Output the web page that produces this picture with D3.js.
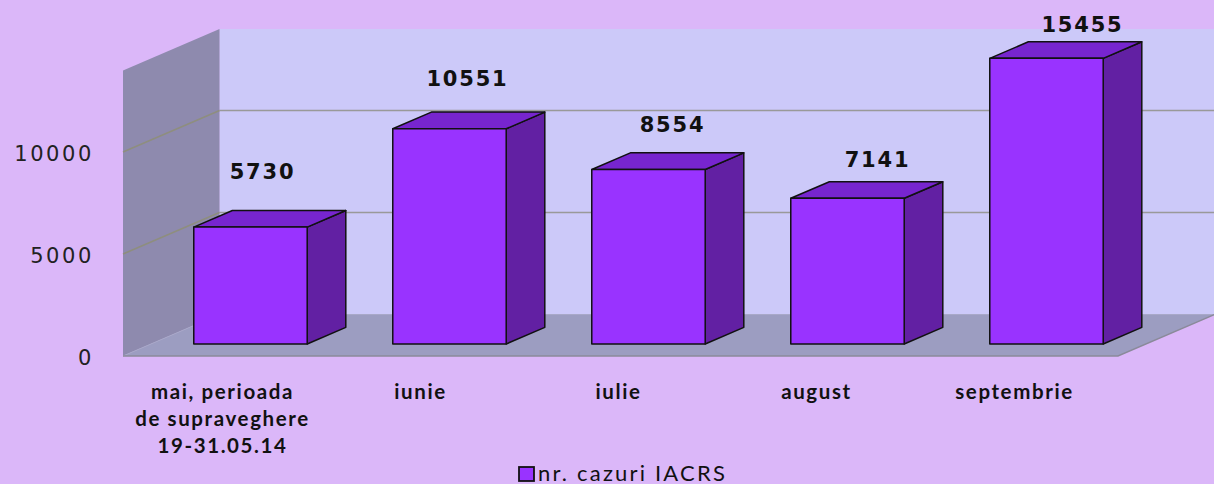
<!DOCTYPE html>
<html>
<head>
<meta charset="utf-8">
<script src="https://cdn.jsdelivr.net/npm/d3@7/dist/d3.min.js"></script>
<style>
  html, body { margin: 0; padding: 0; background: #DBB7F9; }
  svg { display: block; }
</style>
</head>
<body>
<svg id="chart" width="1214" height="484"></svg>
<script>
// ---------- data ----------
const categories = [
  ["mai, perioada", "de supraveghere", "19-31.05.14"],
  ["iunie"],
  ["iulie"],
  ["august"],
  ["septembrie"]
];
const values = [5730, 10551, 8554, 7141, 15455];
const yTicks = [0, 5000, 10000];
const seriesName = "nr. cazuri IACRS";

// ---------- layout ----------
const W = 1214, H = 484;
const frontLeft = 123, frontRight = 1118;
const yMax = 14000;
const DX = 96.5, DY = -41.5;           // full depth offset of the 3D box
const barZ0 = 0.29, barZ1 = 0.69;      // bar depth position inside the box

const svg = d3.select("#chart");
svg.append("rect").attr("width", W).attr("height", H).attr("fill", "#DBB7F9");

const x = d3.scaleBand()
  .domain(d3.range(values.length))
  .range([frontLeft, frontRight])
  .paddingInner(0.43)
  .paddingOuter(0.215);

const y = d3.scaleLinear().domain([0, yMax]).range([356, 70.4]).clamp(true);

const P = (px, v, z) => [px + z * DX, y(v) + z * DY];
const poly = pts => "M" + pts.map(p => p.join(",")).join("L") + "Z";
const line = pts => "M" + pts.map(p => p.join(",")).join("L");

// back wall
svg.append("path")
  .attr("d", poly([P(frontLeft, yMax, 1), P(frontRight, yMax, 1), P(frontRight, 0, 1), P(frontLeft, 0, 1)]))
  .attr("fill", "#CCC9F9");
// left wall
svg.append("path")
  .attr("d", poly([P(frontLeft, yMax, 0), P(frontLeft, yMax, 1), P(frontLeft, 0, 1), P(frontLeft, 0, 0)]))
  .attr("fill", "#8E8AAE");
// floor
svg.append("path")
  .attr("d", poly([P(frontLeft, 0, 0), P(frontLeft, 0, 1), P(frontRight, 0, 1), P(frontRight, 0, 0)]))
  .attr("fill", "#9C9DC1");
svg.append("path")
  .attr("d", line([P(frontLeft, 0, 0), P(frontLeft, 0, 1), P(frontRight, 0, 1)]))
  .attr("fill", "none").attr("stroke", "#A8A8C8").attr("stroke-width", 1);
svg.append("path")
  .attr("d", line([P(frontLeft, 0, 0), P(frontRight, 0, 0), P(frontRight, 0, 1)]))
  .attr("fill", "none").attr("stroke", "#8A8A9A").attr("stroke-width", 1.5);

// gridlines
const grid = svg.append("g");
yTicks.filter(t => t > 0).forEach(t => {
  grid.append("path")
    .attr("d", line([P(frontLeft, t, 1), P(frontRight, t, 1)]))
    .attr("fill", "none").attr("stroke", "#999999").attr("stroke-width", 1.5);
  grid.append("path")
    .attr("d", line([P(frontLeft, t, 0), P(frontLeft, t, 1)]))
    .attr("fill", "none").attr("stroke", "#8E8E7E").attr("stroke-width", 1.5);
});

// y axis labels
svg.append("g").selectAll("text").data(yTicks).join("text")
  .attr("x", frontLeft - 29)
  .attr("y", d => y(d) + 9)
  .attr("text-anchor", "end")
  .attr("font-family", "DejaVu Sans")
  .attr("font-size", 21)
  .attr("letter-spacing", 2.6)
  .attr("fill", "#222")
  .text(d => d);

// bars
const bw = x.bandwidth();
const bars = svg.append("g").selectAll("g").data(values).join("g");
bars.each(function (v, i) {
  const g = d3.select(this);
  const x0 = x(i), x1 = x(i) + bw;
  const ftl = P(x0, v, barZ0), ftr = P(x1, v, barZ0),
        fbl = P(x0, 0, barZ0), fbr = P(x1, 0, barZ0),
        btl = P(x0, v, barZ1), btr = P(x1, v, barZ1),
        bbr = P(x1, 0, barZ1);
  g.append("path").attr("d", poly([ftr, btr, bbr, fbr]))
    .attr("fill", "#6220A3").attr("stroke", "#111").attr("stroke-width", 1.5).attr("stroke-linejoin", "round");
  g.append("path").attr("d", poly([ftl, btl, btr, ftr]))
    .attr("fill", "#7725CF").attr("stroke", "#111").attr("stroke-width", 1.5).attr("stroke-linejoin", "round");
  g.append("path").attr("d", poly([ftl, ftr, fbr, fbl]))
    .attr("fill", "#9933FF").attr("stroke", "#111").attr("stroke-width", 1.5).attr("stroke-linejoin", "round");
});

// value labels (placed above each bar top, with a slight perspective drift)
svg.append("g").selectAll("text").data(values).join("text")
  .attr("x", (v, i) => P(x(i) + bw / 2, v, barZ0)[0] + 12 + 6 * i)
  .attr("y", (v, i) => P(x(i) + bw / 2, v, barZ0)[1] - (48 - 5.5 * i))
  .attr("text-anchor", "middle")
  .attr("font-family", "DejaVu Sans")
  .attr("font-weight", "bold")
  .attr("font-size", 21)
  .attr("letter-spacing", 1.8)
  .attr("fill", "#111")
  .text(v => v);

// category labels
const cat = svg.append("g").selectAll("text").data(categories).join("text")
  .attr("text-anchor", "middle")
  .attr("font-family", "Lato")
  .attr("font-weight", "bold")
  .attr("font-size", 20.5)
  .attr("letter-spacing", 1.6)
  .attr("fill", "#111");
cat.each(function (lines, i) {
  const cx = x(i) + bw / 2 - i;
  d3.select(this).selectAll("tspan").data(lines).join("tspan")
    .attr("x", cx)
    .attr("y", (d, k) => 399 + k * 27)
    .text(d => d);
});

// legend
const leg = svg.append("g").attr("transform", "translate(519,467)");
leg.append("rect").attr("width", 15).attr("height", 14)
  .attr("fill", "#9933FF").attr("stroke", "#111").attr("stroke-width", 1.8);
leg.append("text").attr("x", 19).attr("y", 13.5)
  .attr("font-family", "Lato").attr("font-size", 22).attr("letter-spacing", 2.2).attr("fill", "#111")
  .text(seriesName);
</script>
</body>
</html>
